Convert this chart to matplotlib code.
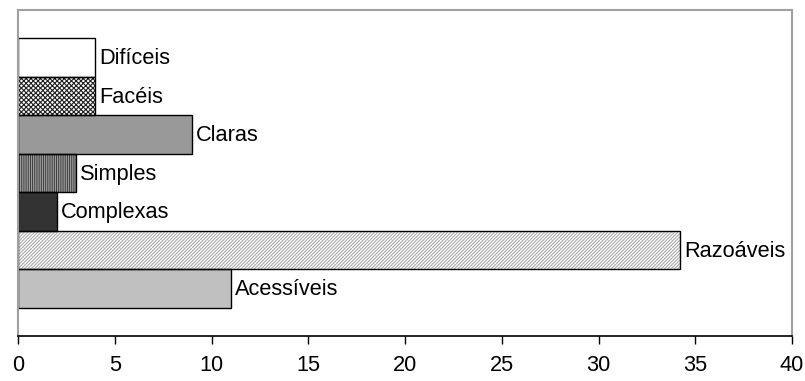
import matplotlib
matplotlib.use("Agg")
import matplotlib.pyplot as plt

# Categories from top to bottom, as in the chart
categories = ["Difíceis", "Facéis", "Claras", "Simples", "Complexas", "Razoáveis", "Acessíveis"]
values = [4, 4, 9, 3, 2, 34.2, 11]
x_ticks = [0, 5, 10, 15, 20, 25, 30, 35, 40]

# fill colour, hatch pattern, hatch colour for each bar
fills = ["white", "#ffffff", "#999999", "#bdbdbd", "#333333", "white", "#c0c0c0"]
hatches = [None, "xxxxxxx", None, "|||||||||", None, "//////////", None]
hatch_colors = [None, "#202020", None, "#404040", None, "#aaaaaa", None]

plt.rcParams["font.family"] = ["Liberation Sans", "DejaVu Sans"]
plt.rcParams["hatch.linewidth"] = 0.8

fig = plt.figure(figsize=(8.05, 3.81), dpi=100)
ax = fig.add_axes([18 / 805, 45 / 381, 774 / 805, 326 / 381])

y = list(range(len(categories)))

# base fill
ax.barh(y, values, height=1.0, color=fills, linewidth=0)
# hatch overlay
for yi, v, h, hc in zip(y, values, hatches, hatch_colors):
    if h:
        ax.barh(yi, v, height=1.0, facecolor="none", edgecolor=hc, hatch=h, linewidth=0)
# outlines
ax.barh(y, values, height=1.0, facecolor="none", edgecolor="black", linewidth=1.0)

for yi, v, name in zip(y, values, categories):
    ax.annotate(name, (v, yi), xytext=(3, -1), textcoords="offset points",
                va="center", ha="left", fontsize=15.7)

ax.set_xlim(0, 40)
ax.set_ylim(len(categories) - 0.5 + 0.73, -0.5 - 0.73)
ax.set_xticks(x_ticks)
ax.set_xticklabels([str(t) for t in x_ticks], fontsize=15.7)
ax.set_yticks([])
ax.tick_params(axis="x", direction="out", length=6, width=1.0, color="black", pad=8)

for side in ["top", "right", "left"]:
    ax.spines[side].set_color("#a0a0a0")
    ax.spines[side].set_linewidth(1.5)
ax.spines["bottom"].set_color("black")
ax.spines["bottom"].set_linewidth(1.2)

fig.savefig("out.png", dpi=100)
